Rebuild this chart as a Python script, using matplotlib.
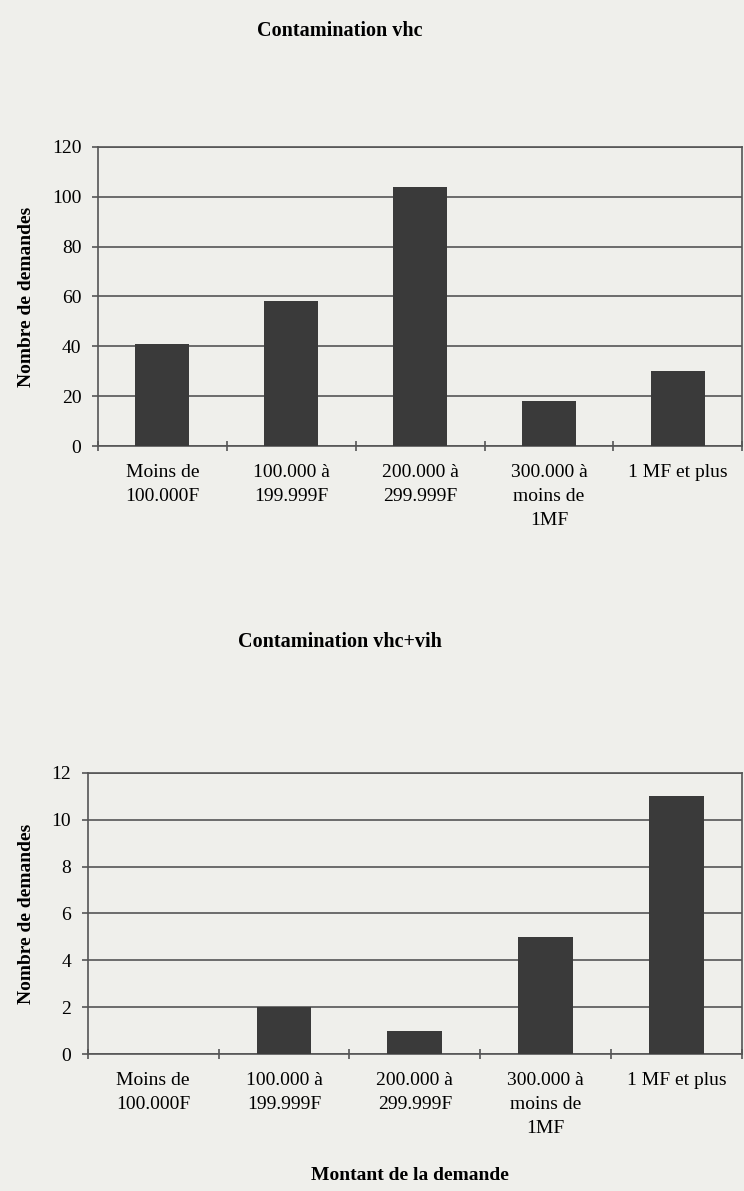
import matplotlib
matplotlib.use("Agg")
import matplotlib.pyplot as plt
import numpy as np

categories = ["Moins de\n100.000F", "100.000 à\n199.999F", "200.000 à\n299.999F",
              "300.000 à\nmoins de\n1MF", "1 MF et plus"]
vhc_values = [41, 58, 104, 18, 30]
vhc_vih_values = [0, 2, 1, 5, 11]
title_top = "Contamination vhc"
title_bottom = "Contamination vhc+vih"
ylabel = "Nombre de demandes"
xlabel = "Montant de la demande"

plt.rcParams['font.family'] = ['Liberation Serif', 'DejaVu Serif']

bg = "#efefeb"
bar_color = "#3a3a3a"
line_color = "#555555"

fig = plt.figure(figsize=(7.44, 11.91), dpi=100, facecolor=bg)

def draw(ax, values, ymax, ystep):
    ax.set_facecolor(bg)
    x = np.arange(len(categories))
    ax.bar(x, values, width=0.42, color=bar_color, zorder=3)
    ax.set_xlim(-0.5, len(categories) - 0.5)
    ax.set_ylim(0, ymax)
    ax.set_yticks(np.arange(0, ymax + 1, ystep))
    ax.grid(axis='y', color=line_color, linewidth=1.2, zorder=1)
    ax.set_xticks(x)
    ax.set_xticklabels(categories, fontsize=14, linespacing=1.55)
    ax.set_xticks(np.arange(-0.5, len(categories) - 0.4, 1), minor=True)
    ax.tick_params(axis='x', which='major', length=0, pad=13)
    ax.tick_params(axis='x', which='minor', length=7, direction='inout', color=line_color, width=1.2)
    ax.tick_params(axis='y', labelsize=14, length=4, color=line_color, width=1.2, pad=8)
    for s in ax.spines.values():
        s.set_color(line_color)
        s.set_linewidth(1.2)
    ax.set_ylabel(ylabel, fontsize=14, fontweight='bold', labelpad=12)

ax1 = fig.add_axes([0.1317, 0.6255, 0.866, 0.2511])
draw(ax1, vhc_values, 120, 20)
fig.text(0.457, 0.974, title_top, ha='center', va='center', fontsize=14.5, fontweight='bold')

ax2 = fig.add_axes([0.118, 0.115, 0.879, 0.236])
draw(ax2, vhc_vih_values, 12, 2)
fig.text(0.457, 0.461, title_bottom, ha='center', va='center', fontsize=14.5, fontweight='bold')
fig.text(0.551, 0.013, xlabel, ha='center', va='center', fontsize=14, fontweight='bold')

fig.savefig("out.png", dpi=100, facecolor=bg)
